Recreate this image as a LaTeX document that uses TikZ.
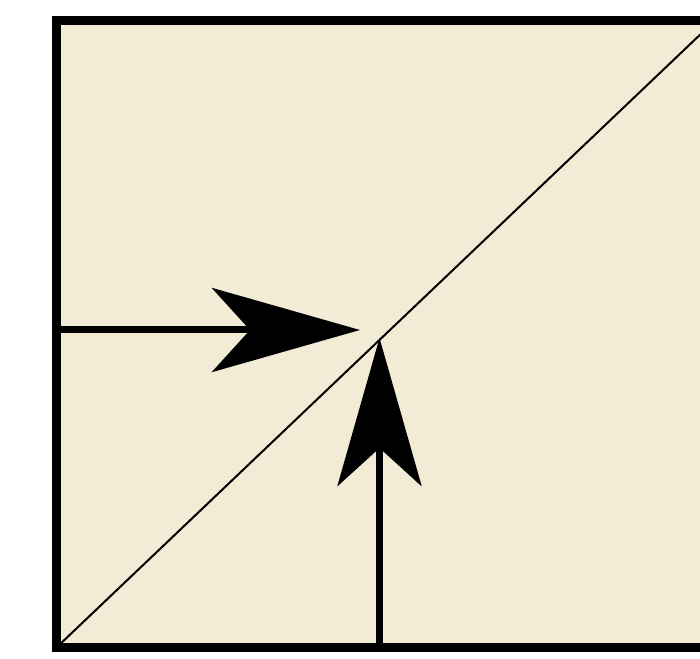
\documentclass[tikz,border=0pt]{standalone}
\usepackage{tikz}
\usetikzlibrary{arrows.meta}
\definecolor{paperbg}{RGB}{242,235,213}
\tikzset{
  frame/.style={draw=black, line width=9pt, fill=paperbg, line join=miter},
  diag/.style={draw=black, line width=2pt},
  push/.style={-{Stealth[length=148pt, width=84pt, inset=38pt]}, line width=7pt, black},
}
\begin{document}
\begin{tikzpicture}[x=1pt, y=1pt]
    \useasboundingbox (0,0) rectangle (700,658);
    \clip (0,0) rectangle (700,658);
    % box corners
    \coordinate (bl) at (56.5,10.5);
    \coordinate (tr) at (715,637.5);
    \draw[frame] (bl) rectangle (tr);
    \draw[diag] (bl) -- (tr);
    % arrow ends
    \coordinate (hin) at (56.5,328);
    \coordinate (hend) at (360,328);
    \coordinate (vin) at (379.5,10.5);
    \coordinate (vend) at (379.5,320);
    \draw[push] (hin) -- (hend);
    \draw[push] (vin) -- (vend);
    % border on top of shafts
    \draw[draw=black, line width=9pt] (tr|-bl) -- (bl) -- (bl|-tr) -- (tr);
  \end{tikzpicture}
\end{document}
